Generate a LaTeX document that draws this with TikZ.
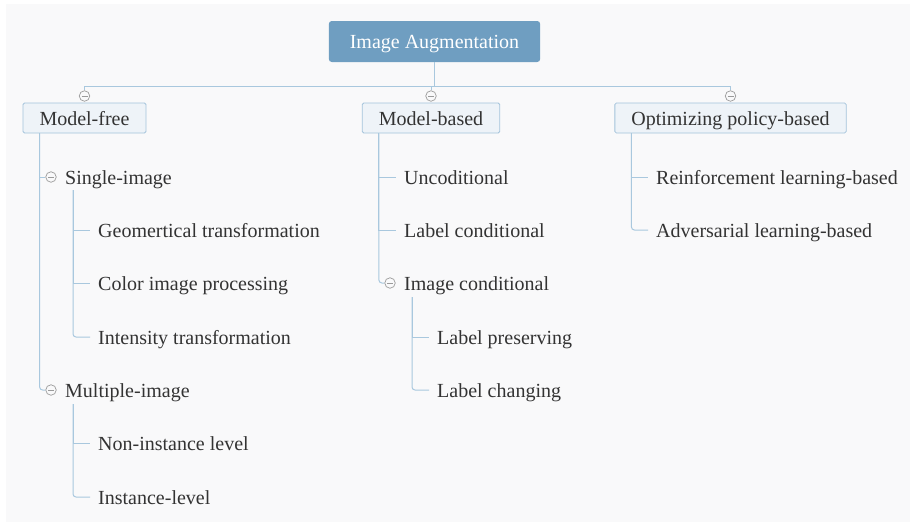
\documentclass[tikz,border=0pt]{standalone}
\usepackage{fontspec}
\setmainfont{Liberation Serif}
\definecolor{bgc}{HTML}{F9F9FA}
\definecolor{rootc}{HTML}{6F9EC1}
\definecolor{boxc}{HTML}{EEF3F8}
\definecolor{boxb}{HTML}{A3C3DB}
\definecolor{linec}{HTML}{A9C8DE}
\definecolor{circc}{HTML}{9A9A9A}
\definecolor{txtc}{HTML}{333333}
\tikzset{
  x=1pt, y=-1pt,
  txt/.style={font=\fontsize{20}{24}\selectfont, text=txtc, text height=14pt, text depth=0pt},
  rootbox/.style={txt, text=white, fill=rootc, rounded corners=3pt, inner xsep=21pt, inner ysep=0pt, minimum height=41pt},
  catbox/.style={txt, fill=boxc, draw=boxb, line width=0.8pt, rounded corners=1.5pt, inner xsep=16.5pt, inner ysep=0pt, minimum height=30pt},
  leaf/.style={txt, anchor=west, inner sep=0pt},
  conn/.style={draw=linec, line width=1pt},
  lastconn/.style={conn, rounded corners=3pt},
  fold/.style={circle, draw=circc, fill=bgc, line width=0.7pt, minimum size=10.5pt, inner sep=0pt,
    path picture={\draw[circc, line width=0.7pt] ([xshift=-3pt]path picture bounding box.center) -- ([xshift=3pt]path picture bounding box.center);}},
}
\begin{document}
\begin{tikzpicture}
\useasboundingbox (0,0) rectangle (913,523);
\fill[bgc] (6,4) rectangle (910,522);

% root
\node[rootbox] (root) at (434.5,41.5) {Image Augmentation};

% categories
\node[catbox] (mf) at (84.5,118) {Model-free};
\node[catbox] (mb) at (431,118) {Model-based};
\node[catbox] (op) at (730.5,118) {Optimizing policy-based};

% fold circles over categories
\node[fold] (fmf) at (84.5,96) {};
\node[fold] (fmb) at (431,96) {};
\node[fold] (fop) at (730.5,96) {};

\coordinate (hub) at (434.5,86);
\draw[conn] (root.south) -- (hub);
\draw[conn] (hub) -| (fmf.north);
\draw[conn] (hub) -| (fop.north);
\draw[conn] (fmb.north) -- (fmb.north |- hub);

% Model-free subtree
\node[fold] (fsi) at (51,177) {};
\node[leaf] (si) at (65,177) {Single-image};
\node[leaf] (geo) at (98,230) {Geomertical transformation};
\node[leaf] (col) at (98,283) {Color image processing};
\node[leaf] (int) at (98,337) {Intensity transformation};
\node[fold] (fmi) at (51,390) {};
\node[leaf] (mi) at (65,390) {Multiple-image};
\node[leaf] (non) at (98,443) {Non-instance level};
\node[leaf] (ins) at (98,497) {Instance-level};

\coordinate (mfv) at ([xshift=17pt]mf.south west);
\draw[conn] (mfv) |- (fsi.west);
\draw[lastconn] (mfv) |- (fmi.west);

\coordinate (siv) at (73,190);
\draw[conn] (siv) |- ([xshift=-8pt]geo.west);
\draw[conn] (siv) |- ([xshift=-8pt]col.west);
\draw[lastconn] (siv) |- ([xshift=-8pt]int.west);

\coordinate (miv) at (73,404);
\draw[conn] (miv) |- ([xshift=-8pt]non.west);
\draw[lastconn] (miv) |- ([xshift=-8pt]ins.west);

% Model-based subtree
\node[leaf] (unc) at (404,177) {Uncoditional};
\node[leaf] (lc) at (404,230) {Label conditional};
\node[fold] (fic) at (390,283) {};
\node[leaf] (ic) at (404,283) {Image conditional};
\node[leaf] (lp) at (437,337) {Label preserving};
\node[leaf] (lch) at (437,390) {Label changing};

\coordinate (mbv) at ([xshift=17pt]mb.south west);
\draw[conn] (mbv) |- ([xshift=-8pt]unc.west);
\draw[conn] (mbv) |- ([xshift=-8pt]lc.west);
\draw[lastconn] (mbv) |- (fic.west);

\coordinate (icv) at (412,297);
\draw[conn] (icv) |- ([xshift=-8pt]lp.west);
\draw[lastconn] (icv) |- ([xshift=-8pt]lch.west);

% Optimizing subtree
\node[leaf] (rl) at (656,177) {Reinforcement learning-based};
\node[leaf] (al) at (656,230) {Adversarial learning-based};

\coordinate (opv) at ([xshift=17pt]op.south west);
\draw[conn] (opv) |- ([xshift=-8pt]rl.west);
\draw[lastconn] (opv) |- ([xshift=-8pt]al.west);
\end{tikzpicture}
\end{document}
